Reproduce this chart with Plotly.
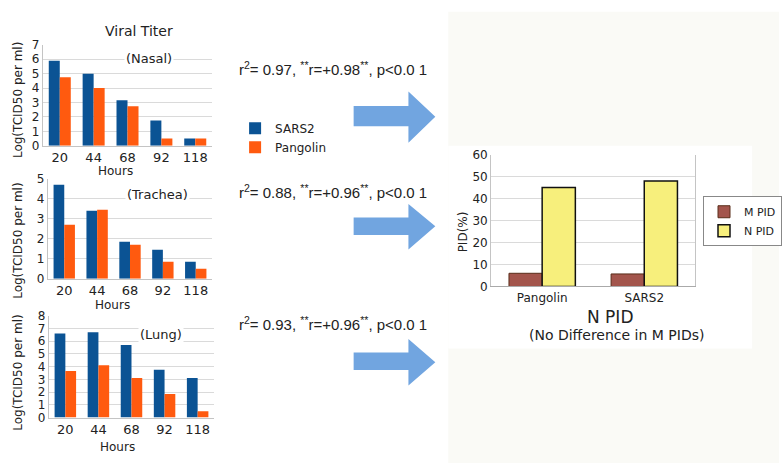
import plotly.graph_objects as go

# ---------------- data ----------------
hours = ["20", "44", "68", "92", "118"]
nasal_sars2 = [5.9, 5.0, 3.15, 1.75, 0.5]
nasal_pangolin = [4.75, 4.0, 2.75, 0.5, 0.5]
trachea_sars2 = [4.7, 3.4, 1.85, 1.45, 0.85]
trachea_pangolin = [2.7, 3.45, 1.7, 0.85, 0.5]
lung_sars2 = [6.6, 6.7, 5.7, 3.75, 3.1]
lung_pangolin = [3.65, 4.1, 3.1, 1.85, 0.5]

pid_species = ["Pangolin", "SARS2"]
m_pid = [6.0, 5.7]
n_pid = [45, 48]

stats = [
    ("0.97", "+0.98"),
    ("0.88", "+0.96"),
    ("0.93", "+0.96"),
]

W, H = 782, 474
SARS2_C = "#0b5394"
PANG_C = "#ff5a0f"
M_C = "#a3554c"
N_C = "#f7ef7c"
ARROW_C = "#71a5e0"
GRID = "#dadada"
AXL = "#c4c4c4"
FONT = "DejaVu Sans"


def px(x, y):
    return x / W, 1 - y / H


def dom_x(a, b):
    return [a / W, b / W]


def dom_y(top, bottom):
    return [1 - bottom / H, 1 - top / H]


fig = go.Figure()

panels = [
    ("x", "y", nasal_sars2, nasal_pangolin, True),
    ("x2", "y2", trachea_sars2, trachea_pangolin, False),
    ("x3", "y3", lung_sars2, lung_pangolin, False),
]
for xa, ya, s, p, show in panels:
    fig.add_trace(go.Bar(x=hours, y=s, name="SARS2", marker_color=SARS2_C,
                         marker_line_width=0, xaxis=xa, yaxis=ya,
                         showlegend=show, legend="legend"))
    fig.add_trace(go.Bar(x=hours, y=p, name="Pangolin", marker_color=PANG_C,
                         marker_line_width=0, xaxis=xa, yaxis=ya,
                         showlegend=show, legend="legend"))

fig.add_trace(go.Bar(x=pid_species, y=m_pid, name="M PID", marker_color=M_C,
                     marker_line=dict(color="#5a2e1a", width=1),
                     xaxis="x4", yaxis="y4", legend="legend2"))
fig.add_trace(go.Bar(x=pid_species, y=n_pid, name="N PID", marker_color=N_C,
                     marker_line=dict(color="#111111", width=1.5),
                     xaxis="x4", yaxis="y4", legend="legend2"))

xcommon = dict(showgrid=False, showline=True, linecolor=AXL, ticks="",
               tickfont=dict(size=13, color="#222"), fixedrange=True)
ycommon = dict(showgrid=True, gridcolor=GRID, showline=True, linecolor=AXL,
               ticks="", zeroline=False, tickfont=dict(size=12, color="#222"),
               dtick=1, fixedrange=True)

layout = dict(
    width=W, height=H, margin=dict(l=0, r=0, t=0, b=0),
    paper_bgcolor="white", plot_bgcolor="white",
    font=dict(family=FONT, color="#222"),
    barmode="group", bargap=0.35, bargroupgap=0,
    xaxis=dict(domain=dom_x(43, 213), anchor="y", **xcommon),
    yaxis=dict(domain=dom_y(39, 143), anchor="x", range=[0, 7], **ycommon),
    xaxis2=dict(domain=dom_x(48, 213), anchor="y2", **xcommon),
    yaxis2=dict(domain=dom_y(177, 280), anchor="x2", range=[0, 5], **ycommon),
    xaxis3=dict(domain=dom_x(49, 215), anchor="y3", **xcommon),
    yaxis3=dict(domain=dom_y(318, 423), anchor="x3", range=[0, 8], **ycommon),
    xaxis4=dict(domain=dom_x(493, 698), anchor="y4", showgrid=False,
                showline=True, linecolor="#aaaaaa", ticks="",
                tickfont=dict(size=12, color="#222"), fixedrange=True),
    yaxis4=dict(domain=dom_y(152, 288), anchor="x4", range=[0, 60], dtick=10,
                showgrid=True, gridcolor=GRID, showline=True, linecolor=AXL,
                mirror=True, ticks="", zeroline=False,
                tickfont=dict(size=12, color="#222"), fixedrange=True),
    legend=dict(x=236 / W, y=1 - 110 / H, xanchor="left", yanchor="top",
                bgcolor="rgba(0,0,0,0)", font=dict(size=12, color="#222"),
                itemwidth=30, tracegroupgap=0),
    legend2=dict(x=706 / W, y=1 - 195 / H, xanchor="left", yanchor="top",
                 bgcolor="white", bordercolor="#888888", borderwidth=1,
                 font=dict(size=11, color="#222"), itemwidth=30),
)
fig.update_layout(**layout)

shapes = []
# off-white background panel on the right and white box for the PID chart
x0, y0 = px(450, 5)
x1, y1 = px(782, 470)
shapes.append(dict(type="rect", xref="paper", yref="paper", x0=x0, y0=y1,
                   x1=x1, y1=y0, fillcolor="#fafaf6", line_width=0,
                   layer="below"))
x0, y0 = px(450, 143)
x1, y1 = px(755, 352)
shapes.append(dict(type="rect", xref="paper", yref="paper", x0=x0, y0=y1,
                   x1=x1, y1=y0, fillcolor="white", line_width=0,
                   layer="below"))

# block arrows
arrow_geom = [(102, 123, 87, 140, 113), (217, 235, 203, 250, 226),
              (356, 374, 342, 390, 366)]
for st, sb, ht, hb, tipy in arrow_geom:
    pts = [(355, st), (410, st), (410, ht), (437, tipy), (410, hb),
           (410, sb), (355, sb)]
    path = "M " + " L ".join("%.5f,%.5f" % px(a, b) for a, b in pts) + " Z"
    shapes.append(dict(type="path", xref="paper", yref="paper", path=path,
                       fillcolor=ARROW_C, line_width=0, layer="above"))
fig.update_layout(shapes=shapes)

ann = []


def add_text(text, x, y, size, angle=0, xanchor="center", family=FONT,
             bg=None):
    xx, yy = px(x, y)
    d = dict(text=text, x=xx, y=yy, xref="paper", yref="paper",
             showarrow=False, xanchor=xanchor, yanchor="middle",
             textangle=angle, font=dict(size=size, family=family,
                                        color="#222"))
    if bg:
        d["bgcolor"] = bg
    ann.append(d)


add_text("Viral Titer", 140, 25, 14)
add_text("(Nasal)", 150, 53, 13, bg="white")
add_text("(Trachea)", 158, 193, 13, bg="white")
add_text("(Lung)", 162, 337, 13, bg="white")
add_text("Hours", 116, 169, 12)
add_text("Hours", 113, 307, 12)
add_text("Hours", 118, 453, 12)
for yc in (96, 241, 377):
    add_text("Log(TCID50 per ml)", 18, yc, 12, angle=-90)

for (r2, r), yc in zip(stats, (63, 190, 326)):
    add_text("r<sup>2</sup>= %s, <sup>**</sup>r=%s<sup>**</sup>, p&lt;0.0 1"
             % (r2, r), 238, yc, 15, xanchor="left", family="Liberation Sans")

add_text("PID(%)", 465, 232, 12, angle=-90)
add_text("N PID", 612, 319, 17)
add_text("(No Difference in M PIDs)", 619, 338, 14)

fig.update_layout(annotations=ann)
fig.write_html("out.html")
